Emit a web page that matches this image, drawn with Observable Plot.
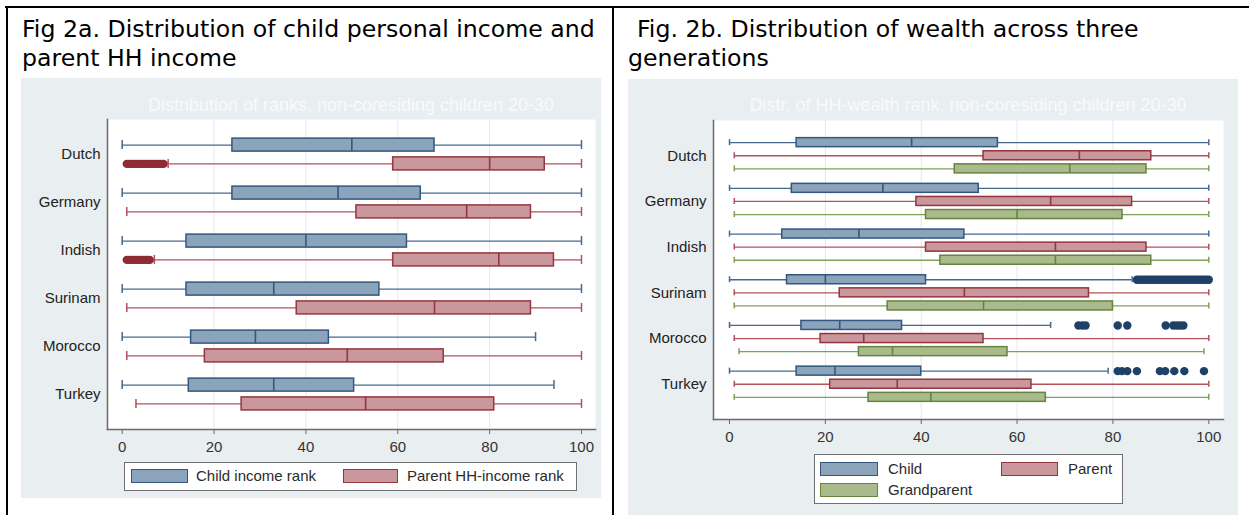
<!DOCTYPE html>
<html>
<head>
<meta charset="utf-8">
<script src="https://cdn.jsdelivr.net/npm/d3@7"></script>
<script src="https://cdn.jsdelivr.net/npm/@observablehq/plot@0.6"></script>
<style>
  html, body { margin: 0; padding: 0; background: #fff; }
  body { width: 1249px; height: 515px; overflow: hidden; position: relative; font-family: "Liberation Sans", Arial, sans-serif; }
  .line { position: absolute; background: #000; }
  .panel { position: absolute; background: #e9eef1; }
  .legend { position: absolute; background: #fff; border: 1.5px solid #707070; box-sizing: border-box; }
  .sw { position: absolute; box-sizing: border-box; border: 1.5px solid; }
  .lt { position: absolute; font-size: 15px; color: #2a2a2a; line-height: 14px; white-space: nowrap; }
  .ghost { position: absolute; font-size: 18px; color: #f8fafb; white-space: nowrap; text-align: center; line-height: 20px; }
</style>
</head>
<body>
<div id="root"></div>
<script>
// ---------------- data ----------------
const countries = ["Dutch", "Germany", "Indish", "Surinam", "Morocco", "Turkey"];
const xTicks = [0, 20, 40, 60, 80, 100];

// Fig 2a: [lower whisker, Q1, median, Q3, upper whisker] per country
const seriesA = ["Child income rank", "Parent HH-income rank"];
const childIncome = [
  [0, 24, 50, 68, 100],
  [0, 24, 47, 65, 100],
  [0, 14, 40, 62, 100],
  [0, 14, 33, 56, 100],
  [0, 15, 29, 45, 90],
  [0, 14.5, 33, 50.5, 94]
];
const parentIncome = [
  [10, 59, 80, 92, 100],
  [1, 51, 75, 89, 100],
  [7, 59, 82, 94, 100],
  [1, 38, 68, 89, 100],
  [1, 18, 49, 70, 100],
  [3, 26, 53, 81, 100]
];
const childIncomeOutliers = [[], [], [], [], [], []];
const parentIncomeOutliers = [
  [1, 1.5, 2, 2.5, 3, 3.5, 4, 4.5, 5, 5.5, 6, 6.5, 7, 7.5, 8, 8.5, 9],
  [],
  [1, 1.5, 2, 2.5, 3, 3.5, 4, 4.5, 5, 5.5, 6],
  [],
  [],
  []
];

// Fig 2b
const seriesB = ["Child", "Parent", "Grandparent"];
const childWealth = [
  [0, 14, 38, 56, 100],
  [0, 13, 32, 52, 100],
  [0, 11, 27, 49, 100],
  [0, 12, 20, 41, 84],
  [0, 15, 23, 36, 67],
  [0, 14, 22, 40, 79]
];
const parentWealth = [
  [1, 53, 73, 88, 100],
  [1, 39, 67, 84, 100],
  [1, 41, 68, 87, 100],
  [1, 23, 49, 75, 100],
  [1, 19, 28, 53, 100],
  [1, 21, 35, 63, 100]
];
const grandWealth = [
  [1, 47, 71, 87, 100],
  [1, 41, 60, 82, 100],
  [1, 44, 68, 88, 100],
  [1, 33, 53, 80, 100],
  [2, 27, 34, 58, 99],
  [1, 29, 42, 66, 100]
];
const childWealthOutliers = [
  [],
  [],
  [],
  [85, 85.5, 86, 86.5, 87, 87.5, 88, 88.5, 89, 89.5, 90, 90.5, 91, 91.5, 92, 92.5,
   93, 93.5, 94, 94.5, 95, 95.5, 96, 96.5, 97, 97.5, 98, 98.5, 99, 99.5, 100],
  [72.8, 73.6, 74.3, 81, 83, 91, 92.6, 93.3, 94, 94.7],
  [81, 81.9, 83, 85, 89.8, 90.9, 92.8, 94.9, 99]
];
const parentWealthOutliers = [[], [], [], [], [], []];
const grandWealthOutliers = [[], [], [], [], [], []];

const titleA = ["Fig 2a. Distribution of child personal income and", "parent HH income"];
const titleB = ["Fig. 2b. Distribution of wealth across three", "generations"];
const ghostA = "Distribution of ranks, non-coresiding children 20-30";
const ghostB = "Distr. of HH-wealth rank, non-coresiding children 20-30";

// ---------------- styles ----------------
const stChild = {fill: "#8ca3bc", stroke: "#34577f", whisker: "#46688f", dot: "#1f4168"};
const stParent = {fill: "#c9979c", stroke: "#93363f", whisker: "#b5505a", dot: "#8e2b35"};
const stGrand = {fill: "#a9bb8c", stroke: "#66843d", whisker: "#81a05a", dot: "#55702f"};

// ---------------- helpers ----------------
function rowsFor(names, stats) {
  const out = [];
  names.forEach((s, k) => countries.forEach((c, i) => {
    const [lo, q1, med, q3, hi] = stats[k][i];
    out.push({country: c, series: s, lo, q1, med, q3, hi});
  }));
  return out;
}
function outliersFor(names, lists) {
  const out = [];
  names.forEach((s, k) => countries.forEach((c, i) => {
    lists[k][i].forEach(v => out.push({country: c, series: s, value: v}));
  }));
  return out;
}

const root = document.getElementById("root");
function el(tag, cls, css, text) {
  const e = document.createElement(tag);
  if (cls) e.className = cls;
  Object.assign(e.style, css || {});
  if (text != null) e.textContent = text;
  root.appendChild(e);
  return e;
}

function boxChart(cfg) {
  const {rows, outliers, names, styles, offsets} = cfg;
  const plotH = cfg.height - cfg.mt - cfg.mb;
  const bw = plotH / (countries.length + 2 * cfg.po);
  const band = (o, h) => ({insetTop: bw / 2 + o - h / 2, insetBottom: bw / 2 - o - h / 2});
  const marks = [
    Plot.frame({fill: "#fff", stroke: "none"}),
    Plot.gridX(xTicks.filter(t => t > xTicks[0] && t < xTicks[xTicks.length - 1]), {stroke: "#e4e7ea", strokeOpacity: 1, strokeWidth: 1})
  ];
  names.forEach((s, k) => {
    const d = rows.filter(r => r.series === s), st = styles[k], o = offsets[k];
    marks.push(
      Plot.ruleY(d, {y: "country", x1: "lo", x2: "q1", stroke: st.whisker, strokeWidth: 1.3, dy: o}),
      Plot.ruleY(d, {y: "country", x1: "q3", x2: "hi", stroke: st.whisker, strokeWidth: 1.3, dy: o}),
      Plot.tickX(d, {x: "lo", y: "country", stroke: st.whisker, strokeWidth: 1.5, ...band(o, cfg.capH)}),
      Plot.tickX(d, {x: "hi", y: "country", stroke: st.whisker, strokeWidth: 1.5, ...band(o, cfg.capH)}),
      Plot.barX(d, {x1: "q1", x2: "q3", y: "country", fill: st.fill, stroke: st.stroke, strokeWidth: 1.5, ...band(o, cfg.boxH)}),
      Plot.tickX(d, {x: "med", y: "country", stroke: st.stroke, strokeWidth: 1.6, ...band(o, cfg.boxH)})
    );
    const od = outliers.filter(r => r.series === s);
    if (od.length) marks.push(Plot.dot(od, {x: "value", y: "country", r: cfg.dotR, fill: st.dot, stroke: "none", dy: o}));
  });
  marks.push(
    Plot.frame({anchor: "left", stroke: "#6a6a6a", strokeWidth: 1.5}),
    Plot.frame({anchor: "bottom", stroke: "#6a6a6a", strokeWidth: 1.5}),
    Plot.axisY({anchor: "left", tickSize: 0, tickPadding: 7, fontSize: 15, fill: "#222", label: null}),
    Plot.axisX({ticks: xTicks, tickSize: 5, tickPadding: 7, fontSize: 15, fill: "#333", stroke: "#6a6a6a", label: null})
  );
  const svg = Plot.plot({
    width: cfg.width, height: cfg.height,
    marginTop: cfg.mt, marginBottom: cfg.mb, marginLeft: cfg.ml, marginRight: cfg.mr,
    style: {background: "transparent", fontFamily: "'Liberation Sans', Arial, sans-serif", overflow: "visible"},
    x: {domain: cfg.xDomain},
    y: {type: "band", domain: countries, paddingInner: 0, paddingOuter: cfg.po, round: false},
    marks
  });
  svg.style.position = "absolute";
  svg.style.left = cfg.left + "px";
  svg.style.top = cfg.top + "px";
  root.appendChild(svg);
}

// ---------------- table frame ----------------
el("div", "line", {left: "5px", top: "6px", width: "1244px", height: "2px"});
el("div", "line", {left: "6px", top: "6px", width: "2px", height: "509px"});
el("div", "line", {left: "612px", top: "6px", width: "2px", height: "509px"});

// gray graph regions
el("div", "panel", {left: "21px", top: "78px", width: "580px", height: "420px"});
el("div", "panel", {left: "628px", top: "79px", width: "610px", height: "436px"});

// ---------------- headers ----------------
const headFamily = "'DejaVu Sans', 'Open Sans', sans-serif";
const ns = "http://www.w3.org/2000/svg";
const hsvg = document.createElementNS(ns, "svg");
hsvg.setAttribute("width", 1249); hsvg.setAttribute("height", 78);
Object.assign(hsvg.style, {position: "absolute", left: "0px", top: "0px"});
root.appendChild(hsvg);
const headTexts = [];
[[titleA, 22, 22], [titleB, 637, 628]].forEach(([lines, x1, x2]) => {
  lines.forEach((t, j) => {
    const tx = document.createElementNS(ns, "text");
    tx.setAttribute("x", j === 0 ? x1 : x2);
    tx.setAttribute("y", j === 0 ? 36.5 : 66);
    tx.setAttribute("font-family", headFamily);
    tx.setAttribute("font-size", 22);
    tx.setAttribute("fill", "#000");
    tx.textContent = t;
    hsvg.appendChild(tx);
    headTexts.push(tx);
  });
});
// scale header size so the first line spans the same width as in the source
const len22 = headTexts[0].getComputedTextLength();
const headSize = Math.min(24.5, 22 * 573 / len22);
headTexts.forEach(t => t.setAttribute("font-size", headSize.toFixed(2)));

// faint in-graph titles
el("div", "ghost", {left: "107px", top: "95px", width: "488px"}, ghostA);
el("div", "ghost", {left: "713px", top: "95px", width: "510px"}, ghostB);

// ---------------- charts ----------------
boxChart({
  rows: rowsFor(seriesA, [childIncome, parentIncome]),
  outliers: outliersFor(seriesA, [childIncomeOutliers, parentIncomeOutliers]),
  names: seriesA, styles: [stChild, stParent], offsets: [-9.4, 9.4],
  left: 21, top: 78, width: 580, height: 420, mt: 41, mb: 69, ml: 86, mr: 6,
  po: 0.229, xDomain: [-3.2, 103.05], boxH: 13, capH: 9, dotR: 4.2
});
boxChart({
  rows: rowsFor(seriesB, [childWealth, parentWealth, grandWealth]),
  outliers: outliersFor(seriesB, [childWealthOutliers, parentWealthOutliers, grandWealthOutliers]),
  names: seriesB, styles: [stChild, stParent, stGrand], offsets: [-13.1, 0, 13.1],
  left: 628, top: 79, width: 610, height: 436, mt: 41, mb: 96, ml: 85, mr: 15,
  po: 0.2714, xDomain: [-3.34, 103.07], boxH: 9, capH: 6, dotR: 4.2
});

// ---------------- legends ----------------
function legend(box, items) {
  el("div", "legend", {left: box[0] + "px", top: box[1] + "px", width: box[2] + "px", height: box[3] + "px"});
  items.forEach(([label, st, sx, sy, sw, tx]) => {
    el("div", "sw", {left: sx + "px", top: sy + "px", width: sw + "px", height: "14px", background: st.fill, borderColor: st.stroke});
    el("div", "lt", {left: tx + "px", top: sy + "px"}, label);
  });
}
legend([124, 462, 453, 29], [
  [seriesA[0], stChild, 131, 469, 57, 196],
  [seriesA[1], stParent, 343, 469, 55, 407]
]);
legend([814, 454, 309, 50], [
  [seriesB[0], stChild, 820, 462, 58, 888],
  [seriesB[1], stParent, 1001, 462, 57, 1068],
  [seriesB[2], stGrand, 820, 483, 58, 888]
]);
</script>
</body>
</html>
